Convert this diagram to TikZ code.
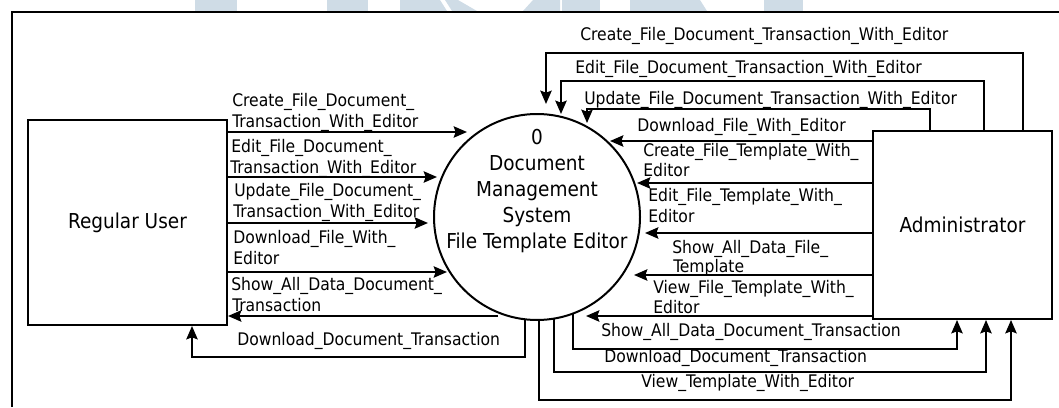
\documentclass[tikz,border=0pt]{standalone}
\usepackage{fontspec}
\setmainfont{DejaVu Sans Condensed}
\usetikzlibrary{arrows.meta}
\definecolor{wm}{RGB}{207,220,230}
\tikzset{
  flow/.style={line width=1.5pt,-{Stealth[length=10pt,width=8.5pt,inset=1.5pt]}},
  lbl/.style={font=\fontsize{13}{15}\selectfont,inner sep=0pt,anchor=base west},
  ent/.style={draw,line width=1.5pt,inner sep=0pt,font=\fontsize{15.4}{19}\selectfont},
  frame/.style={line width=1.5pt},
}
\begin{document}
\begin{tikzpicture}[x=0.75pt,y=-0.75pt]
\useasboundingbox (0,0) rectangle (1059,407);
% watermark remnants
\fill[wm] (195,0) rectangle (237,11);
\fill[wm] (327,0) rectangle (368,11);
\fill[wm] (400,0) -- (440,0) -- (447,11) -- (400,11) -- cycle;
\fill[wm] (445,0) -- (458,0) -- (477,11) -- (452,11) -- cycle;
\fill[wm] (533,0) -- (560,0) -- (560,11) -- (523,11) -- cycle;
\fill[wm] (562,0) rectangle (600,11);
\fill[wm] (630,0) -- (700,0) -- (707,11) -- (630,11) -- cycle;
\fill[wm] (764,0) rectangle (803,11);
% frame
\draw[frame] (12,407) -- (12,12) -- (1059,12);
% entities
\node[ent,minimum width=149.25pt,minimum height=153.75pt] (ru) at (127.5,222.5) {Regular User};
\node[ent,minimum width=134.25pt,minimum height=141pt] (ad) at (962.5,225) {Administrator};
\node[draw,circle,line width=1.5pt,minimum size=154.5pt,inner sep=0pt] (p) at (537,217) {};
\node[align=center,inner sep=0pt,font=\fontsize{15.4}{19.5}\selectfont] (pt) at (537,191) {0\\Document\\Management\\System\\File Template Editor};
% tip coordinates near the process
\coordinate (t1) at (467,132);
\coordinate (t2) at (437,177);
\coordinate (t3) at (428,223);
\coordinate (t4) at (447,272);
\coordinate (s5) at (498,316);
\coordinate (s6) at (525,319);
\coordinate (b6) at (192,357);
\coordinate (r1) at (610,141);
\coordinate (r2) at (637,183);
\coordinate (r3) at (645,233);
\coordinate (r4) at (634,275);
\coordinate (r5) at (586,316);
\coordinate (c1) at (546,104);
\coordinate (c2) at (561,114);
\coordinate (c3) at (587,123);
\coordinate (d1) at (573,313);
\coordinate (d2) at (554,318);
\coordinate (d3) at (539,320);
% regular user flows
\draw[flow] (ru.east |- t1) -- (t1);
\draw[flow] (ru.east |- t2) -- (t2);
\draw[flow] (ru.east |- t3) -- (t3);
\draw[flow] (ru.east |- t4) -- (t4);
\draw[flow] (s5) -- (ru.east |- s5);
\draw[flow] (s6) |- (b6) -- (b6 |- ru.south);
% administrator flows
\draw[flow] (ad.west |- r1) -- (r1);
\draw[flow] (ad.west |- r2) -- (r2);
\draw[flow] (ad.west |- r3) -- (r3);
\draw[flow] (ad.west |- r4) -- (r4);
\draw[flow] (ad.west |- r5) -- (r5);
\draw[flow] (ad.north -| 1023,0) |- (546,53) -- (c1);
\draw[flow] (ad.north -| 984,0) |- (561,81) -- (c2);
\draw[flow] (ad.north -| 930,0) |- (587,109) -- (c3);
\draw[flow] (d1) |- (957,349) -- (ad.south -| 957,0);
\draw[flow] (d2) |- (986,372) -- (ad.south -| 986,0);
\draw[flow] (d3) |- (1011,400) -- (ad.south -| 1011,0);
% labels left
\node[lbl] (l1a) at (232,106.5) {Create\_File\_Document\_};
\node[lbl] (l1b) at (232,127.5) {Transaction\_With\_Editor};
\node[lbl] (l2a) at (231,152.5) {Edit\_File\_Document\_};
\node[lbl] (l2b) at (230,173.5) {Transaction\_With\_Editor};
\node[lbl] (l3a) at (234,196.5) {Update\_File\_Document\_};
\node[lbl] (l3b) at (233,217.5) {Transaction\_With\_Editor};
\node[lbl] (l4a) at (233,243.5) {Download\_File\_With\_};
\node[lbl] (l4b) at (233,264.5) {Editor};
\node[lbl] (l5a) at (231,290.5) {Show\_All\_Data\_Document\_};
\node[lbl] (l5b) at (232,311.5) {Transaction};
\node[lbl] (l6) at (237,345.5) {Download\_Document\_Transaction};
% labels right
\node[lbl] (m1) at (637,131.5) {Download\_File\_With\_Editor};
\node[lbl] (m2a) at (643,156.5) {Create\_File\_Template\_With\_};
\node[lbl] (m2b) at (643,176.5) {Editor};
\node[lbl] (m3a) at (648,201.5) {Edit\_File\_Template\_With\_};
\node[lbl] (m3b) at (648,222.5) {Editor};
\node[lbl] (m4a) at (672,253.5) {Show\_All\_Data\_File\_};
\node[lbl] (m4b) at (673,272.5) {Template};
\node[lbl] (m5a) at (653,293.5) {View\_File\_Template\_With\_};
\node[lbl] (m5b) at (653,313.5) {Editor};
\node[lbl] (n1) at (601,336.5) {Show\_All\_Data\_Document\_Transaction};
\node[lbl] (n2) at (604,362.5) {Download\_Document\_Transaction};
\node[lbl] (n3) at (641,387.5) {View\_Template\_With\_Editor};
% labels top
\node[lbl] (k1) at (580,40.5) {Create\_File\_Document\_Transaction\_With\_Editor};
\node[lbl] (k2) at (575,73.5) {Edit\_File\_Document\_Transaction\_With\_Editor};
\node[lbl] (k3) at (584,104.5) {Update\_File\_Document\_Transaction\_With\_Editor};
\end{tikzpicture}
\end{document}
